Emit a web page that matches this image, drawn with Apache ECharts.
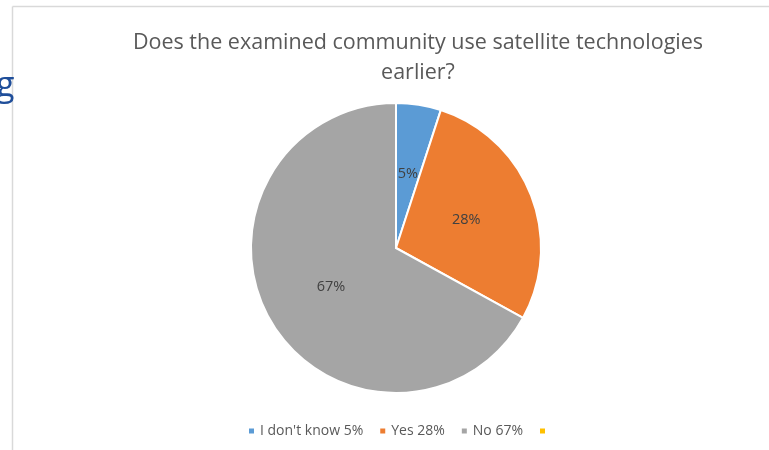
<!DOCTYPE html>
<html>
<head>
<meta charset="utf-8">
<script src="https://cdn.jsdelivr.net/npm/echarts@6/dist/echarts.min.js"></script>
<style>
html,body{margin:0;padding:0;background:#fff;}
#c{width:769px;height:450px;}
</style>
</head>
<body>
<div id="c"></div>
<script>
const titleText = 'Does the examined community use satellite technologies\nearlier?';
const categories = ["I don't know 5%", 'Yes 28%', 'No 67%', '\u00a0'];
const values = [5, 28, 67, 0];
const labels = ['5%', '28%', '67%', ''];
const colors = ['#5b9bd5', '#ed7d31', '#a5a5a5', '#ffc000'];

const chart = echarts.init(document.getElementById('c'));
chart.setOption({
  animation: false,
  backgroundColor: '#fff',
  color: colors,
  graphic: [
    { type: 'line', shape: { x1: 12.5, y1: 450, x2: 12.5, y2: 6.5 }, style: { stroke: '#d9d9d9', lineWidth: 1.5 } },
    { type: 'line', shape: { x1: 12.5, y1: 6.5, x2: 769, y2: 6.5 }, style: { stroke: '#d9d9d9', lineWidth: 1.5 } },
    { type: 'text', left: -4, top: 69, style: { text: 'g', fill: '#1f4e9a', font: '34px "Open Sans", sans-serif' } }
  ],
  title: {
    text: titleText,
    left: 413,
    top: 23,
    textAlign: 'center',
    textStyle: { fontFamily: 'Open Sans', fontSize: 21.5, fontWeight: 'normal', color: '#595959', lineHeight: 30 }
  },
  legend: {
    bottom: 12,
    left: 247,
    padding: 0,
    icon: 'rect',
    itemWidth: 7,
    itemHeight: 7,
    itemGap: 15,
    textStyle: { fontFamily: 'Open Sans', fontSize: 14, color: '#595959' },
    data: categories
  },
  series: [{
    type: 'pie',
    center: [396, 248],
    radius: 145,
    startAngle: 90,
    clockwise: true,
    avoidLabelOverlap: false,
    itemStyle: { borderColor: '#fff', borderWidth: 2 },
    label: {
      position: 'inside',
      color: '#404040',
      fontFamily: 'Open Sans',
      fontSize: 14.5,
      formatter: p => labels[p.dataIndex]
    },
    labelLine: { show: false },
    data: categories.map((n, i) => ({ name: n, value: values[i] }))
  }]
});
</script>
</body>
</html>
